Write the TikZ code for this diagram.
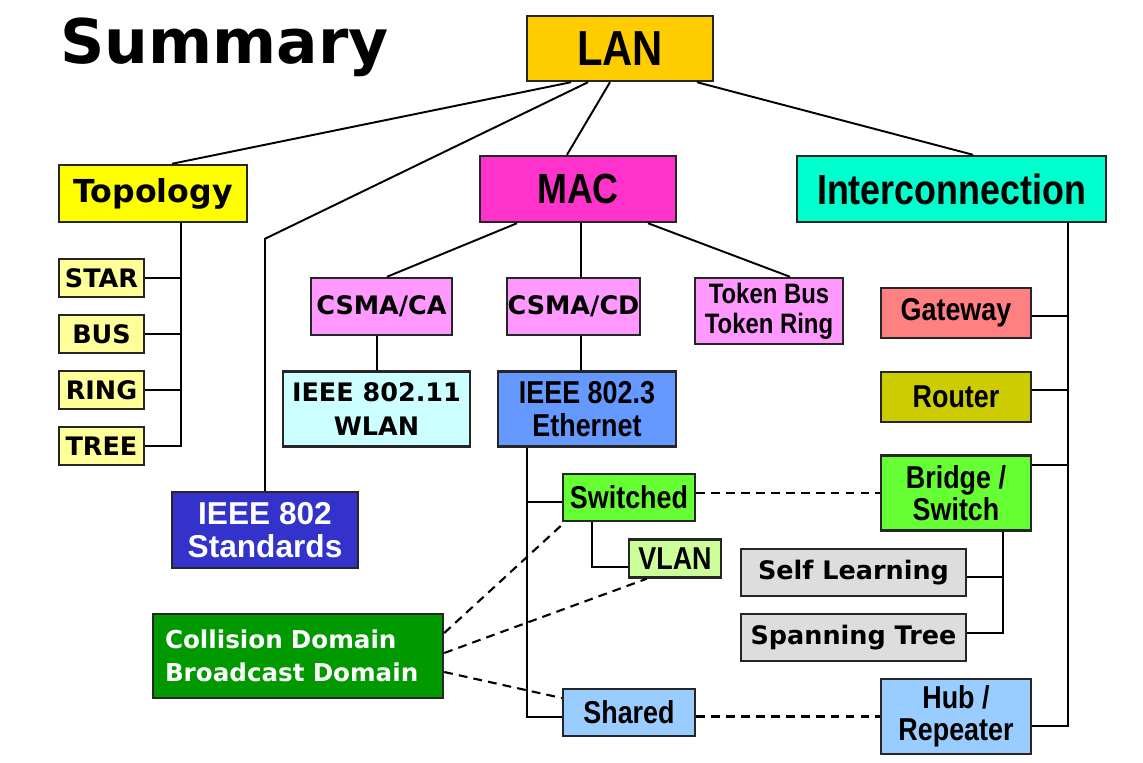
\documentclass[tikz,border=0pt]{standalone}
\usepackage{fontspec}
\setmainfont{DejaVu Sans}
\newfontfamily\narrowfont{Liberation Sans}[FakeStretch=0.85]
\newfontfamily\arialfont{Liberation Sans}
\usetikzlibrary{calc,positioning}

\definecolor{lanc}{HTML}{FFCC00}
\definecolor{topoc}{HTML}{FFFF00}
\definecolor{topolight}{HTML}{FFFF99}
\definecolor{macc}{HTML}{FF33CC}
\definecolor{macchild}{HTML}{FF99FF}
\definecolor{interc}{HTML}{00FFCC}
\definecolor{wlanc}{HTML}{CCFFFF}
\definecolor{ethc}{HTML}{6699FF}
\definecolor{stdc}{HTML}{3333CC}
\definecolor{switchc}{HTML}{66FF33}
\definecolor{vlanc}{HTML}{CCFF99}
\definecolor{sharedc}{HTML}{99CCFF}
\definecolor{domainc}{HTML}{009900}
\definecolor{gatec}{HTML}{FF8080}
\definecolor{routerc}{HTML}{CCCC00}
\definecolor{greyc}{HTML}{DDDDDD}

\begin{document}
\begin{tikzpicture}[x=0.2mm,y=-0.2mm]

\tikzset{box/.style = {shape=rectangle,draw=black!85,line width=1.4pt,inner sep=0pt,align=center,font=\bfseries\fontsize{14.5}{19}\selectfont}}
\tikzset{nbox/.style = {box,font=\narrowfont\bfseries\fontsize{18}{18.5}\selectfont}}
\tikzset{sz/.style 2 args = {minimum width=#1*0.2mm,minimum height=#2*0.2mm}}
\tikzset{edge/.style = {line width=1.1pt}}
\tikzset{dedge/.style = {line width=1.2pt,dash pattern=on 5pt off 3.5pt}}

\useasboundingbox (0,0) rectangle (1143,763);

% title
\node[anchor=base west,inner sep=0pt,font=\bfseries\fontsize{35}{40}\selectfont] (title) at (60,63) {Summary};

% vertices
\node[nbox,sz={186}{65},fill=lanc,font=\narrowfont\bfseries\fontsize{28}{30}\selectfont] (lan) at (620,48.5) {LAN};
\node[box,sz={188}{57},fill=topoc,font=\bfseries\fontsize{18}{20}\selectfont] (topo) at (153,193.5) {Topology};
\node[nbox,sz={196}{66},fill=macc,font=\narrowfont\bfseries\fontsize{24}{26}\selectfont] (mac) at (578,189) {MAC};
\node[nbox,sz={309}{66},fill=interc,font=\narrowfont\bfseries\fontsize{24}{26}\selectfont] (inter) at (951.5,189) {Interconnection};

\foreach \n/\t/\y in {star/STAR/278, bus/BUS/334, ring/RING/390, tree/TREE/446}
  \node[box,sz={85}{38},fill=topolight] (\n) at (101.5,\y) {\t};

\node[box,sz={186}{76},fill=stdc,text=white,font=\arialfont\bfseries\fontsize{18}{19}\selectfont] (std) at (265,530) {IEEE 802\\Standards};

\node[box,sz={141}{57},fill=macchild] (csmaca) at (381.5,306.5) {CSMA/CA};
\node[box,sz={187}{75},fill=wlanc] (wlan) at (376.5,409) {IEEE 802.11\\WLAN};
\node[box,sz={133}{57},fill=macchild] (csmacd) at (573.5,306.5) {CSMA/CD};
\node[nbox,sz={178}{75},fill=ethc] (eth) at (587,409) {IEEE 802.3\\Ethernet};
\node[nbox,sz={148}{66},fill=macchild,font=\narrowfont\bfseries\fontsize{16}{17}\selectfont] (token) at (769,311) {Token Bus\\Token Ring};

\node[nbox,sz={132}{47},fill=switchc] (switched) at (629,497.5) {Switched};
\node[nbox,sz={92}{38},fill=vlanc] (vlan) at (675,558.5) {VLAN};
\node[nbox,sz={132}{47},fill=sharedc] (shared) at (629,712.5) {Shared};
\node[box,sz={290}{84},fill=domainc,text=white,align=left,text width=53.2mm,inner xsep=2.4mm,font=\bfseries\fontsize{14}{19}\selectfont] (domain) at (298,656) {Collision Domain\\Broadcast Domain};

\node[nbox,sz={150}{50},fill=gatec] (gate) at (956,313) {Gateway};
\node[nbox,sz={150}{50},fill=routerc] (router) at (956,397) {Router};
\node[nbox,sz={150}{75},fill=switchc] (bridge) at (956,493) {Bridge /\\Switch};
\node[box,sz={225}{47},fill=greyc] (self) at (853.5,572.5) {Self Learning};
\node[box,sz={225}{47},fill=greyc] (span) at (853.5,637.5) {Spanning Tree};
\node[nbox,sz={150}{75},fill=sharedc] (hub) at (956,716.5) {Hub /\\Repeater};

%edges
\draw[edge] ($(lan.south)+(-49,0)$) -- ($(topo.north)+(19,0)$);
\draw[edge] ($(lan.south)+(-32,0)$) -- ($(std.north)+(0,-252)$) -- (std.north);
\draw[edge] ($(lan.south)+(-10,0)$) -- ($(mac.north)+(-11,0)$);
\draw[edge] ($(lan.south)+(77,0)$) -- ($(inter.north)+(21.5,0)$);

\foreach \n in {star,bus,ring,tree}
  \draw[edge] (\n.east) -| ($(topo.south)+(28,0)$);

\draw[edge] ($(mac.south)+(-61,0)$) -- ($(csmaca.north)+(5.5,0)$);
\draw[edge] ($(mac.south)+(3,0)$) -- ($(csmacd.north)+(7.5,0)$);
\draw[edge] ($(mac.south)+(70,0)$) -- ($(token.north)+(21,0)$);
\draw[edge] ($(csmaca.south)+(-4.5,0)$) -- ($(wlan.north)+(0.5,0)$);
\draw[edge] ($(csmacd.south)+(7.5,0)$) -- ($(eth.north)+(-6,0)$);

\draw[edge] ($(eth.south)+(-60,0)$) |- ($(shared.west)+(0,4.5)$);
\draw[edge] ($(switched.west)+(0,4.5)$) -| ($(eth.south)+(-60,0)$);
\draw[edge] ($(switched.south)+(-37,0)$) |- ($(vlan.west)+(0,8.5)$);

\draw[edge] ($(inter.south)+(116.5,0)$) |- ($(hub.east)+(0,9.5)$);
\foreach \n/\d in {gate/3, router/-7, bridge/-28}
  \draw[edge] ($(\n.east)+(0,\d)$) -| ($(inter.south)+(116.5,0)$);
\draw[edge] ($(bridge.south)+(47,0)$) |- ($(span.east)+(0,-4.5)$);
\draw[edge] ($(self.east)+(0,4.5)$) -| ($(bridge.south)+(47,0)$);

% dashed links
\draw[dedge] (switched.east |- bridge.west) -- (bridge.west);
\draw[dedge] (shared.east |- hub.west) -- (hub.west);
\draw[dedge] ($(domain.east)+(0,-23)$) -- ($(switched.south west)+(3,0)$);
\draw[dedge] ($(domain.east)+(0,-3)$) -- ($(vlan.south west)+(19,0)$);
\draw[dedge] ($(domain.east)+(0,16)$) -- ($(shared.west)+(0,-14.5)$);

\end{tikzpicture}
\end{document}
